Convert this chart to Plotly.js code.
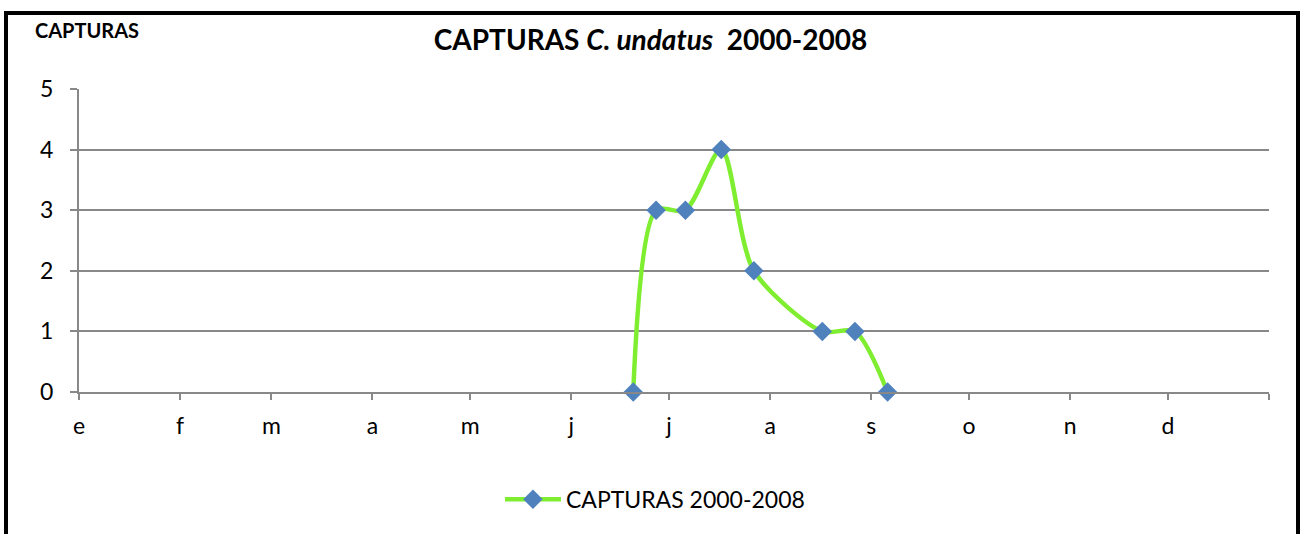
<!DOCTYPE html>
<html>
<head>
<meta charset="utf-8">
<script src="https://cdn.plot.ly/plotly-3.0.1.min.js"></script>
<style>
  html, body { margin: 0; padding: 0; background: #fff; }
  #wrap { position: relative; width: 1301px; height: 534px; overflow: hidden; }
  #chart { position: absolute; left: 0; top: 0; width: 1301px; height: 534px; }
  #frame { position: absolute; left: 4px; top: 11px; width: 1288px; height: 600px;
           border: 4px solid #000; pointer-events: none; }
</style>
</head>
<body>
<div id="wrap">
  <div id="chart"></div>
  <div id="frame"></div>
</div>
<script>
// Month tick positions (day of year) and labels
const monthStarts = [0, 31, 59, 90, 120, 151, 181, 212, 243, 273, 304, 334, 365];
const monthLabels = ['e', 'f', 'm', 'a', 'm', 'j', 'j', 'a', 's', 'o', 'n', 'd', ''];

// Series: captures (day of year, count)
const seriesName = 'CAPTURAS 2000-2008';
const captureDays = [170, 177, 186, 197, 207, 228, 238, 248];
const captureCounts = [0, 3, 3, 4, 2, 1, 1, 0];

const FONT = 'Lato, "Open Sans", "Liberation Sans", sans-serif';

const trace = {
  type: 'scatter',
  mode: 'lines+markers',
  name: seriesName,
  x: captureDays,
  y: captureCounts,
  line: { color: '#80EE30', width: 4.5, shape: 'spline', smoothing: 0.8 },
  marker: { symbol: 'diamond', size: 15, color: '#4F81BD', line: { width: 0 } },
  cliponaxis: false
};

const layout = {
  width: 1301,
  height: 534,
  margin: { l: 79, r: 32, t: 89, b: 142 },
  paper_bgcolor: '#ffffff',
  plot_bgcolor: '#ffffff',
  font: { family: FONT, color: '#000000', size: 23 },
  title: {
    text: '<b>CAPTURAS <i>C. undatus</i>\u00A0\u00A02000-2008</b>',
    font: { family: FONT, size: 28, color: '#000' },
    x: 0.5, xref: 'container', xanchor: 'center',
    y: 1 - 40 / 534, yref: 'container', yanchor: 'middle'
  },
  xaxis: {
    range: [0, 365],
    tickmode: 'array',
    tickvals: monthStarts,
    ticktext: monthLabels,
    ticks: 'outside',
    ticklen: 6,
    tickwidth: 2,
    tickcolor: '#888888',
    showgrid: false,
    zeroline: false,
    showline: true,
    linecolor: '#888888',
    linewidth: 2,
    ticklabelstandoff: 6,
    tickfont: { family: FONT, size: 23, color: '#000' },
    fixedrange: true
  },
  yaxis: {
    range: [0, 5],
    tickmode: 'linear',
    tick0: 0,
    dtick: 1,
    ticks: 'outside',
    ticklen: 7,
    tickwidth: 2,
    tickcolor: '#888888',
    showgrid: true,
    gridcolor: '#888888',
    gridwidth: 2,
    zeroline: false,
    showline: true,
    linecolor: '#888888',
    linewidth: 2,
    ticklabelstandoff: 12,
    tickfont: { family: FONT, size: 23, color: '#000' },
    fixedrange: true
  },
  showlegend: true,
  legend: {
    orientation: 'h',
    x: 0.484, xanchor: 'center',
    y: (392 - 499) / 302.4, yanchor: 'middle',
    font: { family: FONT, size: 23, color: '#000' },
    itemwidth: 56,
    bgcolor: 'rgba(0,0,0,0)'
  },
  annotations: [{
    text: '<b>CAPTURAS</b>',
    xref: 'paper', yref: 'paper',
    x: (33 - 79) / 1190, xanchor: 'left',
    y: (392 - 31) / 302.4, yanchor: 'middle',
    showarrow: false,
    font: { family: FONT, size: 20, color: '#000' }
  }]
};

Plotly.newPlot('chart', [trace], layout, { displayModeBar: false, staticPlot: true });
</script>
</body>
</html>
